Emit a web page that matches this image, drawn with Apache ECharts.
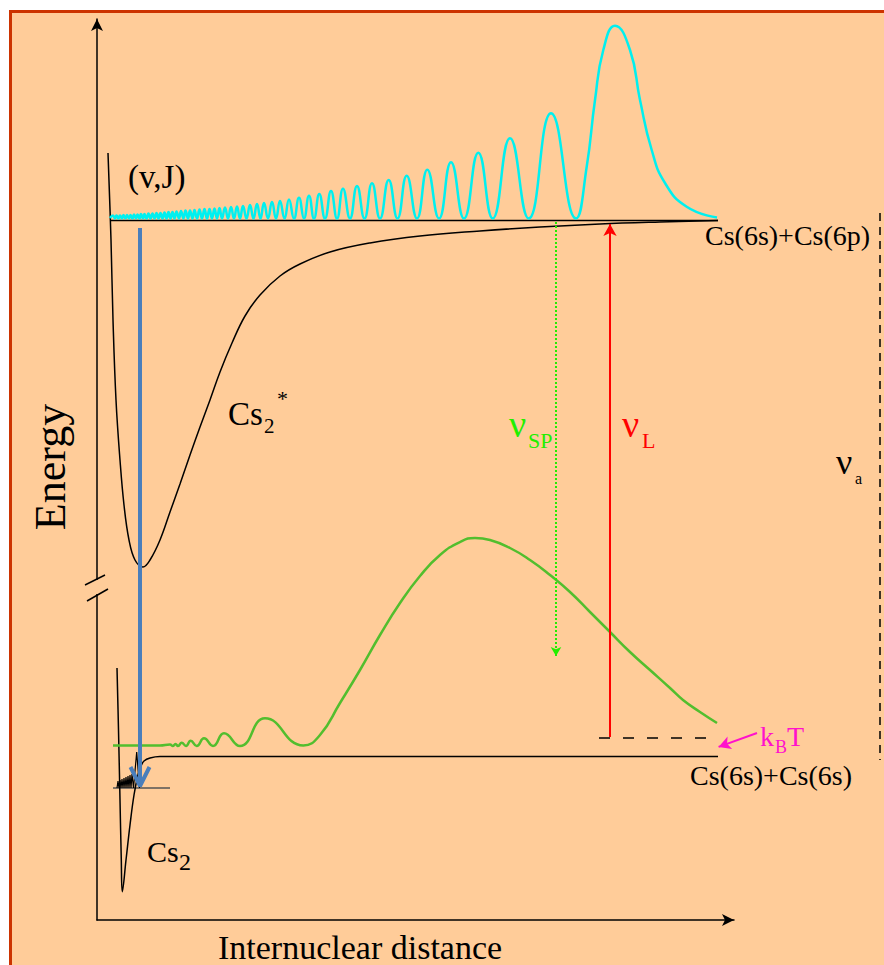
<!DOCTYPE html>
<html><head><meta charset="utf-8">
<script src="https://cdn.jsdelivr.net/npm/echarts@6/dist/echarts.min.js"></script>
<style>html,body{margin:0;padding:0;background:#fff}#c{width:884px;height:965px}</style>
</head><body><div id="c"></div>
<script>
// ---- data (x = internuclear distance, y = energy; picture units) ----
const upperPotential = [[108,153],[111,240],[113,320],[116,400],[120,460],[124,505],[129,540],[135,560],[143,567],[150,560],[160,540],[170,512],[180,484],[190,455],[200,427],[210,400],[220,372],[232,343],[245,316],[260,295],[280,276],[300,264],[330,252],[370,243],[420,236],[480,231],[540,227],[600,224],[660,222],[718,220.5]];
const upperLevel = [[110,220.5],[718,220.5]];
const cyanWave = [[110,218],[113,215.5],[115,218.5],[116.5,215.5],[118.5,218.5],[120,215.5],[122,218.5],[123.5,215],[125.5,218.5],[127,215],[129,218.5],[130.5,215],[132.5,218.5],[134,214.5],[136,218.5],[137.5,214.5],[139.5,218.5],[141,214],[143,218.5],[144.5,214],[146.5,218.5],[148.5,213.5],[150.5,218.5],[152.5,213.5],[154.5,218.5],[156.5,213],[158.5,218.5],[160.5,213],[162.5,218.5],[164.5,212.5],[166.5,218.5],[168.5,212],[170.5,218.5],[172.5,212],[174.5,218.5],[176.5,211.5],[179,218.5],[181,211],[183.5,218.5],[185.5,210.5],[188,218.5],[190,210.5],[192.5,218.5],[194.5,210],[197,218.5],[199.5,209.5],[202,218.5],[204.5,209],[207,218.5],[209.5,209],[212,218.5],[214.5,208.5],[217,218.5],[219.5,208],[222,218.5],[225,207.5],[228,218.5],[231,207],[234,218.5],[237,206.5],[240,218.5],[243,206],[246.5,218.5],[250,205],[253.5,218.5],[257,204],[260.5,218.5],[264,203],[268,218.5],[272,202],[276,218.5],[280,201],[284.5,218.5],[289,199.5],[294,218.5],[299,197.7],[304,218.5],[309,195.7],[314,218.5],[319.3,194],[325,218.5],[331,191],[337,218.5],[343,188.7],[350,218.5],[357,186],[364.5,218.5],[372,183.3],[380,218.5],[388.7,180],[397.5,218.5],[406.7,175.7],[417,218.5],[427.3,169.7],[439,218.5],[451,162.3],[464,218.5],[478.3,152.7],[492.7,218.5],[510,138.3],[528.7,218.5],[551,113.3],[576,218.5],[586.7,166.7],[595,100],[603.3,50],[615,25.7],[630,50],[640,100],[651.7,150],[665,183],[686.7,206.7],[717,217.5]];
const lowerPotential = [[117,668],[118.5,730],[120,800],[121.3,860],[122.3,891.7],[126,860],[130,825],[134,795],[138,775],[141,766],[144,761],[150,758],[160,756.5],[718,756.5]];
const lowerWave = [[117,788],[118,781],[119,788],[120,780],[121,788],[122,779],[123,788],[124,778],[125,788],[126,777],[127,788],[128,776],[129,788],[130,775],[131,788],[132,774],[133.5,788],[136.7,752],[139.5,788]];
const lowerLevel = [[113,788],[170,788]];
const greenWave = [[113,745.5],[160,745.5],[170,744.5],[173,746],[175.5,744],[178,746],[181.7,742.7],[186,746],[190.7,740.7],[196.7,746],[204,738.3],[213,746],[224,733.3],[240,746],[265,718.3],[303.3,745.5],[320,735],[340,703],[360,670],[380,635],[400,603],[420,576],[440,555],[460,542],[475,538],[490,540],[510,548],[530,560],[550,575],[570,592],[590,612],[610,632],[630,652],[650,670],[670,688],[683,700],[700,712],[717,723]];
const thermalLevel = [[599,738],[713,738]];
const asymptoteGap = [[880,213],[880,760]];
const blueArrow = [[140,228],[140,784]];
const blueHead = [[130.5,767],[140,786],[149.5,767]];
const redArrow = [[610,737],[610,224]];
const greenArrow = [[556,222],[556,656]];
const magentaArrow = [[757,733],[718.6,746.9]];

const SERIF = '"Liberation Serif","Times New Roman",serif';

function line(data, color, width, extra) {
  return Object.assign({
    type: 'line', data: data, symbol: 'none', silent: true, clip: false, animation: false,
    xAxisIndex: 0, yAxisIndex: 0,
    lineStyle: { color: color, width: width }, itemStyle: { color: color }
  }, extra || {});
}
function arrow(pts, color, width, size, rot, lineType) {
  return line([{ value: pts[0], symbol: 'none' },
               { value: pts[1], symbol: 'arrow', symbolSize: size, symbolRotate: rot }],
              color, width, { lineStyle: { color: color, width: width, type: lineType || 'solid' }, z: 5 });
}
function txt(text, x, y, size, color, align, rot) {
  return { type: 'text', x: x, y: y, rotation: rot || 0, z: 100, silent: true,
    style: { text: text, font: size + 'px ' + SERIF, fill: color,
             textAlign: align || 'left', align: align || 'left',
             textVerticalAlign: 'middle', verticalAlign: 'middle' } };
}
const hiddenAxis = { show: false };
const visibleLine = { show: true, symbol: ['none', 'arrow'], symbolSize: [9, 12], lineStyle: { color: '#000', width: 1.5 } };

const chart = echarts.init(document.getElementById('c'), null, { renderer: 'svg' });
chart.setOption({
  backgroundColor: '#ffffff',
  animation: false,
  grid: [
    { left: 0, right: 0, top: 0, bottom: 0 },
    { left: 97, right: 150, top: 19, bottom: 45 }
  ],
  xAxis: [
    Object.assign({ type: 'value', min: 0, max: 884, gridIndex: 0 }, hiddenAxis),
    { type: 'value', min: 0, max: 1, gridIndex: 1, axisLine: visibleLine,
      axisTick: { show: false }, axisLabel: { show: false }, splitLine: { show: false } }
  ],
  yAxis: [
    Object.assign({ type: 'value', min: 0, max: 965, inverse: true, gridIndex: 0 }, hiddenAxis),
    { type: 'value', min: 0, max: 1, gridIndex: 1, axisLine: visibleLine,
      axisTick: { show: false }, axisLabel: { show: false }, splitLine: { show: false } }
  ],
  graphic: [
    { type: 'rect', z: -10, silent: true, shape: { x: 10.5, y: 11.5, width: 1000, height: 1000 },
      style: { fill: '#FFCC99', stroke: '#CC3300', lineWidth: 3 } },
    { type: 'rect', z: 50, silent: true, shape: { x: 93, y: 580, width: 9, height: 14 }, style: { fill: '#FFCC99' } },
    { type: 'line', z: 51, silent: true, shape: { x1: 85, y1: 585, x2: 105, y2: 575 }, style: { stroke: '#000', lineWidth: 1.5 } },
    { type: 'line', z: 51, silent: true, shape: { x1: 87, y1: 601, x2: 108, y2: 589 }, style: { stroke: '#000', lineWidth: 1.5 } },
    txt('(v,J)', 128, 177, 33, '#000'),
    txt('Cs(6s)+Cs(6p)', 705, 235, 28, '#000'),
    txt('Cs(6s)+Cs(6s)', 690, 775, 28, '#000'),
    txt('Cs', 228, 414, 33, '#000'),
    txt('2', 264, 426, 21, '#000'),
    txt('*', 277, 398, 22, '#000'),
    txt('Cs', 147, 851, 30, '#000'),
    txt('2', 179, 862, 24, '#000'),
    txt('ν', 509, 424, 38, '#22EE00'),
    txt('SP', 528, 440, 22, '#22EE00'),
    txt('ν', 622, 424, 38, '#FF0000'),
    txt('L', 642, 440, 22, '#FF0000'),
    txt('ν', 836, 462, 36, '#000'),
    txt('a', 855, 478, 16, '#000'),
    txt('k', 760, 736, 28, '#FF11CC'),
    txt('B', 775, 747, 18, '#FF11CC'),
    txt('T', 787, 736, 28, '#FF11CC'),
    txt('Energy', 50, 467, 44, '#000', 'center', Math.PI / 2),
    txt('Internuclear distance', 218, 947, 34, '#000')
  ],
  series: [
    line(upperLevel, '#000', 1.5),
    line(upperPotential, '#000', 1.5, { smooth: 0.4 }),
    line(cyanWave, '#00F0F0', 2.5, { smooth: 0.5 }),
    line(lowerLevel, '#555', 1.5),
    line(lowerPotential, '#000', 1.5, { smooth: 0.4 }),
    line(lowerWave, '#000', 1.2),
    line(greenWave, '#52BE2E', 2.5, { smooth: 0.5 }),
    line(thermalLevel, '#000', 1.5, { lineStyle: { color: '#000', width: 1.5, type: [11, 13] } }),
    line(asymptoteGap, '#000', 1.5, { lineStyle: { color: '#000', width: 1.5, type: [8, 6] } }),
    line(blueArrow, '#4A7EBB', 4, { z: 6 }),
    line(blueHead, '#4A7EBB', 4, { z: 6 }),
    arrow(redArrow, '#FF0000', 2, [10, 12], 0),
    arrow(greenArrow, '#22EE00', 2, [8, 9], 180, [2, 2]),
    arrow(magentaArrow, '#FF11CC', 2, [10, 12], 110)
  ]
});
</script></body></html>
